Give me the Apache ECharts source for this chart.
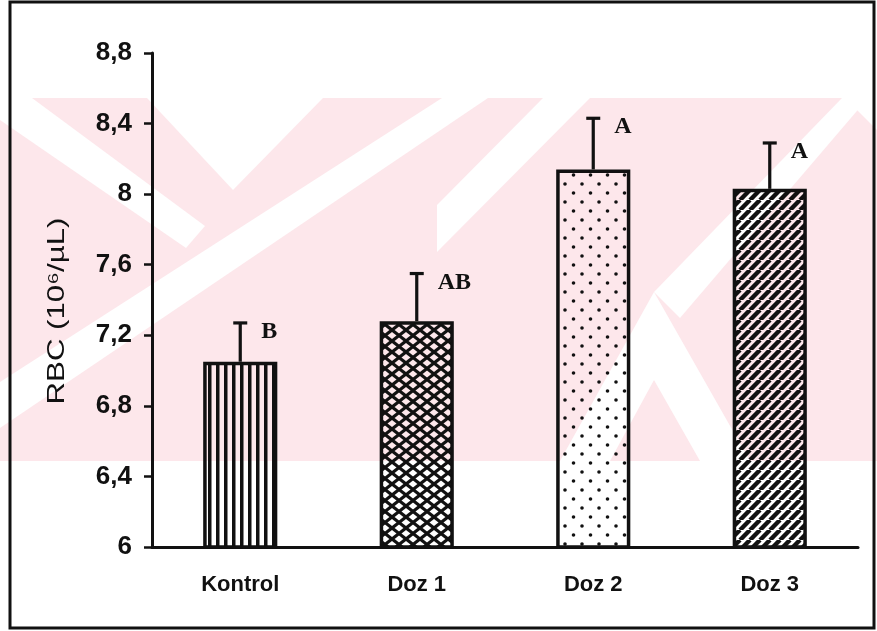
<!DOCTYPE html>
<html>
<head>
<meta charset="utf-8">
<script src="https://cdn.jsdelivr.net/npm/echarts@6/dist/echarts.min.js"></script>
<style>
  html, body { margin: 0; padding: 0; background: #fff; }
  #main { width: 877px; height: 631px; }
</style>
</head>
<body>
<div id="main"></div>
<script>
// data
const categories = ['Kontrol', 'Doz 1', 'Doz 2', 'Doz 3'];
const means = [7.05, 7.28, 8.14, 8.03];
const errors = [0.22, 0.27, 0.29, 0.26];
const letters = ['B', 'AB', 'A', 'A'];

// fill patterns drawn on small canvases
function makeTile(w, h, draw) {
    const c = document.createElement('canvas');
    c.width = w; c.height = h;
    const ctx = c.getContext('2d');
    ctx.fillStyle = '#111';
    ctx.strokeStyle = '#111';
    draw(ctx, w, h);
    return c;
}
const vLines = makeTile(8, 8, function (ctx) {
    ctx.fillRect(0, 0, 3.5, 8);
});
const crossHatch = makeTile(14, 11, function (ctx, w, h) {
    ctx.lineWidth = 3.2;
    for (let dx = -w; dx <= w; dx += w) {
        ctx.beginPath(); ctx.moveTo(dx, 0); ctx.lineTo(dx + w, h); ctx.stroke();
        ctx.beginPath(); ctx.moveTo(dx + w, 0); ctx.lineTo(dx, h); ctx.stroke();
    }
});
const dots = makeTile(17, 18, function (ctx) {
    ctx.beginPath(); ctx.arc(4, 4, 1.8, 0, Math.PI * 2); ctx.fill();
    ctx.beginPath(); ctx.arc(12.5, 13, 1.8, 0, Math.PI * 2); ctx.fill();
});
const diag = makeTile(10, 10, function (ctx, w, h) {
    ctx.lineWidth = 4.4;
    for (let dx = -w; dx <= w; dx += w) {
        ctx.beginPath(); ctx.moveTo(dx, h); ctx.lineTo(dx + w, 0); ctx.stroke();
    }
});
const fills = [vLines, crossHatch, dots, diag];

// faint pink watermark band behind the plot
const pink = '#fde7eb';
const whiteBits = [
    [[147, 98], [323, 98], [233, 190]],
    [[0, 98], [32, 98], [205, 226], [186, 248], [0, 120]],
    [[0, 382], [0, 428], [488, 98], [442, 98]],
    [[437, 205], [437, 252], [590, 98], [543, 98]],
    [[654, 292], [560, 461], [610, 461], [654, 380], [700, 461], [750, 461]],
    [[654, 292], [680, 318], [868, 98], [842, 98]],
    [[845, 98], [877, 98], [877, 130]]
];
const watermark = [{
    type: 'rect', z: 0, silent: true,
    shape: { x: 0, y: 98, width: 877, height: 363 },
    style: { fill: pink }
}].concat(whiteBits.map(function (p) {
    return { type: 'polygon', z: 0, silent: true, shape: { points: p }, style: { fill: '#fff' } };
}));

const chart = echarts.init(document.getElementById('main'));
chart.setOption({
    animation: false,
    backgroundColor: '#fff',
    grid: { left: 152, right: 19, top: 53, bottom: 84 },
    graphic: watermark.concat([
        {
            type: 'rect', z: 10, silent: true,
            shape: { x: 10, y: 2, width: 864, height: 626 },
            style: { fill: 'none', stroke: '#111', lineWidth: 3 }
        },
        {
            type: 'text', z: 10, x: 57, y: 311, rotation: Math.PI / 2, scaleX: 1.3,
            style: {
                text: 'RBC (10⁶/µL)', fill: '#111',
                font: '24px "Liberation Sans", Arial, sans-serif',
                align: 'center', verticalAlign: 'middle'
            }
        }
    ]),
    xAxis: {
        type: 'category',
        data: categories,
        axisLine: { lineStyle: { color: '#111', width: 3 } },
        axisTick: { length: 8, lineStyle: { color: '#111', width: 2.5 } },
        axisLabel: {
            color: '#111', fontSize: 22, fontWeight: 'bold', margin: 27,
            fontFamily: '"Liberation Sans", Arial, sans-serif'
        }
    },
    yAxis: {
        type: 'value',
        min: 6, max: 8.8, interval: 0.4,
        splitLine: { show: false },
        axisLine: { show: true, lineStyle: { color: '#111', width: 3 } },
        axisTick: { show: true, length: 8, lineStyle: { color: '#111', width: 2.5 } },
        axisLabel: {
            color: '#111', fontSize: 26, fontWeight: 'bold', margin: 20,
            fontFamily: '"Liberation Sans", Arial, sans-serif',
            formatter: function (v) { return String(+v.toFixed(1)).replace('.', ','); }
        }
    },
    series: [
        {
            type: 'bar',
            barWidth: '42%',
            z: 3,
            data: means.map(function (m, i) {
                return {
                    value: m,
                    itemStyle: {
                        color: { image: fills[i], repeat: 'repeat' },
                        borderColor: '#111', borderWidth: 3.5
                    }
                };
            })
        },
        {
            type: 'custom',
            z: 4,
            data: means.map(function (m, i) { return [i, m, m + errors[i]]; }),
            renderItem: function (params, api) {
                const base = api.coord([api.value(0), api.value(1)]);
                const top = api.coord([api.value(0), api.value(2)]);
                const ln = { stroke: '#111', lineWidth: 3.2 };
                return {
                    type: 'group',
                    children: [
                        { type: 'line', shape: { x1: base[0], y1: base[1], x2: top[0], y2: top[1] }, style: ln },
                        { type: 'line', shape: { x1: top[0] - 7, y1: top[1], x2: top[0] + 7, y2: top[1] }, style: ln },
                        {
                            type: 'text', x: top[0] + 21, y: top[1] + 9,
                            style: {
                                text: letters[params.dataIndex], fill: '#111',
                                font: 'bold 24px "Liberation Serif", "Times New Roman", serif',
                                align: 'left', verticalAlign: 'middle'
                            }
                        }
                    ]
                };
            }
        }
    ]
});
</script>
</body>
</html>
